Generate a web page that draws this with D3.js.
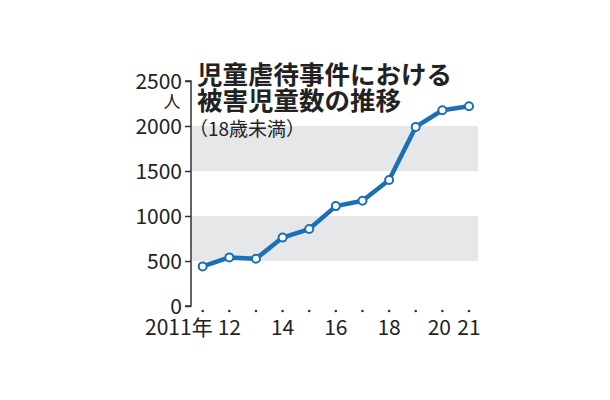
<!DOCTYPE html>
<html><head><meta charset="utf-8">
<script src="https://cdn.jsdelivr.net/npm/d3@7"></script>
<style>body{margin:0;background:#fff}svg{display:block}</style>
</head><body>
<script>
const years = [2011,2012,2013,2014,2015,2016,2017,2018,2019,2020,2021];
const victims = [440,540,525,760,855,1110,1170,1400,1990,2175,2220];
const yTicks = [0,500,1000,1500,2000,2500];
const xLabels = {2011:"2011年",2012:"12",2014:"14",2016:"16",2018:"18",2020:"20",2021:"21"};
const bands = [[500,1000],[1500,2000]];
const titleLines = ["児童虐待事件における","被害児童数の推移"];
const subtitle = "（18歳未満）";
const unit = "人";

const W=610,H=400;
const font = "'Noto Sans CJK JP', sans-serif";
const svg = d3.select("body").append("svg").attr("width",W).attr("height",H);
const x = d3.scaleLinear().domain([2011,2021]).range([202.7,469]);
const y = d3.scaleLinear().domain([0,2500]).range([306,81]);
const axX = 191, bandRight = 478;

svg.selectAll("rect.band").data(bands).enter().append("rect")
  .attr("x",axX).attr("width",bandRight-axX)
  .attr("y",d=>y(d[1])).attr("height",d=>y(d[0])-y(d[1]))
  .attr("fill","#e6e7e8");

const yAxis = d3.axisLeft(y).tickValues(yTicks).tickSize(6).tickPadding(3).tickFormat(d3.format("d"));
const ga = svg.append("g").attr("transform",`translate(${axX},0)`).call(yAxis);
ga.select(".domain").attr("stroke","#333").attr("stroke-width",1.5).attr("d",`M-6,${y(2500)}H0V${y(0)}H-6`);
ga.selectAll(".tick line").attr("stroke","#333").attr("stroke-width",1.5);
ga.selectAll(".tick text").attr("font-family",font).attr("font-size",21).attr("fill","#222")
  .attr("dy","0.36em");

svg.append("text").attr("x",172).attr("y",108).attr("text-anchor","middle")
  .attr("font-family",font).attr("font-size",17).attr("fill","#222").text(unit);

// x dots
svg.selectAll("circle.xdot").data(years).enter().append("circle")
  .attr("cx",d=>x(d)).attr("cy",311).attr("r",1.3).attr("fill","#333");
const xOff = {2020:-3};
svg.append("text").attr("x",x(2011)+10).attr("y",335).attr("text-anchor","end")
  .attr("font-family",font).attr("font-size",21).attr("fill","#222").text(xLabels[2011]);
svg.selectAll("text.xl").data(years.filter(d=>xLabels[d] && d!==2011)).enter().append("text")
  .attr("x",d=>x(d)+(xOff[d]||0)).attr("y",335)
  .attr("text-anchor","middle")
  .attr("font-family",font).attr("font-size",21).attr("fill","#222")
  .text(d=>xLabels[d]);

const line = d3.line().x((d,i)=>x(years[i])).y(d=>y(d));
svg.append("path").datum(victims).attr("d",line).attr("fill","none")
  .attr("stroke","#1b6fb5").attr("stroke-width",4.5).attr("stroke-linejoin","round");
svg.selectAll("circle.pt").data(victims).enter().append("circle")
  .attr("cx",(d,i)=>x(years[i])).attr("cy",d=>y(d)).attr("r",4)
  .attr("fill","#fff").attr("stroke","#1b6fb5").attr("stroke-width",2);

svg.selectAll("text.title").data(titleLines).enter().append("text")
  .attr("x",197).attr("y",(d,i)=>84+i*26)
  .attr("font-family",font).attr("font-size",25.5).attr("font-weight",700).attr("fill","#222")
  .text(d=>d);
svg.append("text").attr("x",189).attr("y",136)
  .attr("font-family",font).attr("font-size",19).attr("fill","#222").text(subtitle);
</script>
</body></html>
